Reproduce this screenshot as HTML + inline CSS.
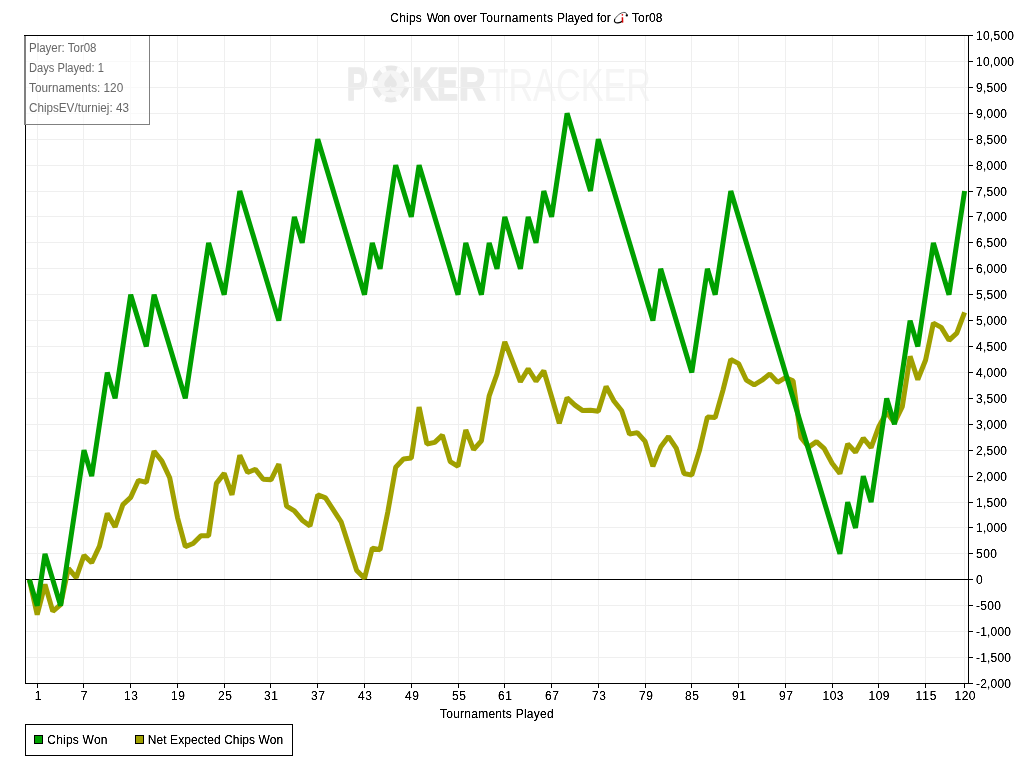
<!DOCTYPE html>
<html><head><meta charset="utf-8"><title>Chips Won over Tournaments Played</title>
<style>
html,body{margin:0;padding:0;background:#fff;}
body{width:1018px;height:761px;overflow:hidden;font-family:"Liberation Sans",sans-serif;}
svg{display:block;will-change:transform;}
text{font-family:"Liberation Sans",sans-serif;font-size:12px;fill:#000;}
.info text{fill:#666;}
</style></head><body>
<svg width="1018" height="761" viewBox="0 0 1018 761">
<defs><filter id="alias" x="0" y="0" width="100%" height="100%" filterUnits="userSpaceOnUse" color-interpolation-filters="sRGB"><feComponentTransfer><feFuncA type="linear" slope="1.7" intercept="-0.2"/></feComponentTransfer></filter></defs>
<rect x="0" y="0" width="1018" height="761" fill="#fff"/>

<g id="wm">
<g font-weight="bold" style="font-size:46px" fill="#eaeaea">
<text transform="translate(346.7,100.2) scale(0.685,1)" style="font-size:46px;fill:#ebebeb;stroke:#ebebeb;stroke-width:1.6px;stroke-linejoin:round">P</text>
<text transform="translate(411.9,100.2) scale(0.795,1)" style="font-size:46px;fill:#ebebeb;stroke:#ebebeb;stroke-width:1.6px;stroke-linejoin:round">K</text>
<text transform="translate(437.0,100.2) scale(0.685,1)" style="font-size:46px;fill:#ebebeb;stroke:#ebebeb;stroke-width:1.6px;stroke-linejoin:round">E</text>
<text transform="translate(458.8,100.2) scale(0.809,1)" style="font-size:46px;fill:#ebebeb;stroke:#ebebeb;stroke-width:1.6px;stroke-linejoin:round">R</text>
</g>
<circle cx="390.9" cy="84" r="13.6" fill="#f5f5f5"/>
<circle cx="390.9" cy="84" r="16.0" fill="none" stroke="#e8e8e8" stroke-width="4.9"/>
<circle cx="390.9" cy="84" r="16.0" fill="none" stroke="#fdfdfd" stroke-width="5.1" stroke-dasharray="5.8 10.955" stroke-dashoffset="2.9"/>
<path d="M390.5,73.3 C389.6,77 384.2,80.2 384.2,84.2 C384.2,86.2 385.7,87.4 387.5,87.4 C388.8,87.4 389.9,86.8 390.5,85.9 C391.1,86.8 392.2,87.4 393.5,87.4 C395.3,87.4 396.9,86.2 396.9,84.2 C396.9,80.2 391.4,77 390.5,73.3 Z M390.5,87.6 C390.1,89.6 388.8,91 386.9,91.3 L385.3,91.4 L385.3,92.1 L395.7,92.1 L395.7,91.4 L394.1,91.3 C392.2,91 390.9,89.6 390.5,87.6 Z" fill="#e7e7e7"/>
<text x="487.5" y="100.5" textLength="163.5" lengthAdjust="spacingAndGlyphs" style="font-size:46px;fill:#f5f5f5">TRACKER</text>
</g>
<g stroke="#efefef" stroke-width="1" shape-rendering="crispEdges">
<line x1="37.5" y1="36" x2="37.5" y2="683"/>
<line x1="83.5" y1="36" x2="83.5" y2="683"/>
<line x1="130.5" y1="36" x2="130.5" y2="683"/>
<line x1="177.5" y1="36" x2="177.5" y2="683"/>
<line x1="224.5" y1="36" x2="224.5" y2="683"/>
<line x1="270.5" y1="36" x2="270.5" y2="683"/>
<line x1="317.5" y1="36" x2="317.5" y2="683"/>
<line x1="364.5" y1="36" x2="364.5" y2="683"/>
<line x1="411.5" y1="36" x2="411.5" y2="683"/>
<line x1="458.5" y1="36" x2="458.5" y2="683"/>
<line x1="504.5" y1="36" x2="504.5" y2="683"/>
<line x1="551.5" y1="36" x2="551.5" y2="683"/>
<line x1="598.5" y1="36" x2="598.5" y2="683"/>
<line x1="645.5" y1="36" x2="645.5" y2="683"/>
<line x1="691.5" y1="36" x2="691.5" y2="683"/>
<line x1="738.5" y1="36" x2="738.5" y2="683"/>
<line x1="785.5" y1="36" x2="785.5" y2="683"/>
<line x1="832.5" y1="36" x2="832.5" y2="683"/>
<line x1="878.5" y1="36" x2="878.5" y2="683"/>
<line x1="925.5" y1="36" x2="925.5" y2="683"/>
<line x1="964.5" y1="36" x2="964.5" y2="683"/>
<line x1="26" y1="657.5" x2="968" y2="657.5"/>
<line x1="26" y1="631.5" x2="968" y2="631.5"/>
<line x1="26" y1="605.5" x2="968" y2="605.5"/>
<line x1="26" y1="553.5" x2="968" y2="553.5"/>
<line x1="26" y1="527.5" x2="968" y2="527.5"/>
<line x1="26" y1="502.5" x2="968" y2="502.5"/>
<line x1="26" y1="476.5" x2="968" y2="476.5"/>
<line x1="26" y1="450.5" x2="968" y2="450.5"/>
<line x1="26" y1="424.5" x2="968" y2="424.5"/>
<line x1="26" y1="398.5" x2="968" y2="398.5"/>
<line x1="26" y1="372.5" x2="968" y2="372.5"/>
<line x1="26" y1="346.5" x2="968" y2="346.5"/>
<line x1="26" y1="320.5" x2="968" y2="320.5"/>
<line x1="26" y1="294.5" x2="968" y2="294.5"/>
<line x1="26" y1="268.5" x2="968" y2="268.5"/>
<line x1="26" y1="242.5" x2="968" y2="242.5"/>
<line x1="26" y1="216.5" x2="968" y2="216.5"/>
<line x1="26" y1="191.5" x2="968" y2="191.5"/>
<line x1="26" y1="165.5" x2="968" y2="165.5"/>
<line x1="26" y1="139.5" x2="968" y2="139.5"/>
<line x1="26" y1="113.5" x2="968" y2="113.5"/>
<line x1="26" y1="87.5" x2="968" y2="87.5"/>
<line x1="26" y1="61.5" x2="968" y2="61.5"/>
</g>
<line x1="26" y1="579.5" x2="968" y2="579.5" stroke="#000" stroke-width="1" shape-rendering="crispEdges"/>
<polyline points="29.4,579.8 37.2,614.6 45.0,584.4 52.8,611.4 60.6,604.7 68.4,568.3 76.2,577.7 84.0,555.4 91.7,562.7 99.5,546.1 107.3,513.4 115.1,526.9 122.9,504.7 130.7,497.4 138.5,480.3 146.3,482.4 154.1,451.2 161.9,461.1 169.7,477.7 177.5,517.6 185.3,546.6 193.1,543.5 200.9,535.8 208.6,535.8 216.4,483.4 224.2,473.4 232.0,494.8 239.8,455.3 247.6,472.5 255.4,469.4 263.2,479.3 271.0,479.8 278.8,464.1 286.6,506.2 294.4,510.9 302.2,520.2 310.0,525.9 317.8,494.8 325.5,497.9 333.3,509.8 341.1,521.8 348.9,546.1 356.7,570.5 364.5,578.3 372.3,548.2 380.1,549.8 387.9,511.4 395.7,467.3 403.5,459.0 411.3,458.0 419.1,407.1 426.9,444.0 434.7,442.4 442.4,435.1 450.2,461.6 458.0,466.3 465.8,429.9 473.6,449.7 481.4,440.9 489.2,395.8 497.0,374.0 504.8,341.8 512.6,361.6 520.4,381.8 528.2,368.7 536.0,381.3 543.8,370.8 551.6,396.8 559.3,423.3 567.1,397.8 574.9,405.1 582.7,410.6 590.5,410.3 598.3,411.3 606.1,386.4 613.9,401.0 621.7,410.8 629.5,434.1 637.3,432.6 645.1,441.4 652.9,466.3 660.7,447.1 668.5,436.6 676.2,448.1 684.0,473.5 691.8,475.1 699.6,450.0 707.4,417.0 715.2,417.6 723.0,390.1 730.8,359.4 738.6,363.6 746.4,380.2 754.2,384.9 762.0,380.2 769.8,373.9 777.6,382.3 785.4,377.6 793.1,380.8 800.9,437.5 808.7,447.1 816.5,441.6 824.3,448.7 832.1,463.2 839.9,473.5 847.7,443.9 855.5,452.3 863.3,438.2 871.1,447.6 878.9,426.4 886.7,412.3 894.5,422.7 902.3,406.7 910.1,356.3 917.8,379.7 925.6,360.0 933.4,323.1 941.2,327.4 949.0,340.3 956.8,333.1 964.6,312.3" fill="none" stroke="#a0a000" stroke-width="5" stroke-linejoin="bevel" stroke-linecap="butt"/>
<polyline points="29.4,579.8 37.2,605.7 45.0,553.9 60.6,605.7 84.0,450.2 91.7,476.1 107.3,372.5 115.1,398.4 130.7,294.7 146.3,346.5 154.1,294.7 185.3,398.4 208.6,242.9 224.2,294.7 239.8,191.0 278.8,320.6 294.4,216.9 302.2,242.9 317.8,139.2 364.5,294.7 372.3,242.9 380.1,268.8 395.7,165.1 411.3,216.9 419.1,165.1 458.0,294.7 465.8,242.9 481.4,294.7 489.2,242.9 497.0,268.8 504.8,216.9 520.4,268.8 528.2,216.9 536.0,242.9 543.8,191.0 551.6,216.9 567.1,113.3 590.5,191.0 598.3,139.2 652.9,320.6 660.7,268.8 691.8,372.5 707.4,268.8 715.2,294.7 730.8,191.0 839.9,553.9 847.7,502.1 855.5,528.0 863.3,476.1 871.1,502.1 886.7,398.4 894.5,424.3 910.1,320.6 917.8,346.5 933.4,242.9 949.0,294.7 964.6,191.0" fill="none" stroke="#00a000" stroke-width="5" stroke-linejoin="bevel" stroke-linecap="butt"/>
<g stroke="#000" stroke-width="1" shape-rendering="crispEdges" fill="none">
<line x1="24" y1="35.5" x2="969" y2="35.5"/><line x1="25.5" y1="35" x2="25.5" y2="684"/><line x1="25" y1="683.5" x2="969" y2="683.5"/><line x1="968.5" y1="35" x2="968.5" y2="684"/>
<line x1="37.5" y1="684" x2="37.5" y2="688"/>
<line x1="83.5" y1="684" x2="83.5" y2="688"/>
<line x1="130.5" y1="684" x2="130.5" y2="688"/>
<line x1="177.5" y1="684" x2="177.5" y2="688"/>
<line x1="224.5" y1="684" x2="224.5" y2="688"/>
<line x1="270.5" y1="684" x2="270.5" y2="688"/>
<line x1="317.5" y1="684" x2="317.5" y2="688"/>
<line x1="364.5" y1="684" x2="364.5" y2="688"/>
<line x1="411.5" y1="684" x2="411.5" y2="688"/>
<line x1="458.5" y1="684" x2="458.5" y2="688"/>
<line x1="504.5" y1="684" x2="504.5" y2="688"/>
<line x1="551.5" y1="684" x2="551.5" y2="688"/>
<line x1="598.5" y1="684" x2="598.5" y2="688"/>
<line x1="645.5" y1="684" x2="645.5" y2="688"/>
<line x1="691.5" y1="684" x2="691.5" y2="688"/>
<line x1="738.5" y1="684" x2="738.5" y2="688"/>
<line x1="785.5" y1="684" x2="785.5" y2="688"/>
<line x1="832.5" y1="684" x2="832.5" y2="688"/>
<line x1="878.5" y1="684" x2="878.5" y2="688"/>
<line x1="925.5" y1="684" x2="925.5" y2="688"/>
<line x1="964.5" y1="684" x2="964.5" y2="688"/>
<line x1="969" y1="683.5" x2="973" y2="683.5"/>
<line x1="969" y1="657.5" x2="973" y2="657.5"/>
<line x1="969" y1="631.5" x2="973" y2="631.5"/>
<line x1="969" y1="605.5" x2="973" y2="605.5"/>
<line x1="969" y1="579.5" x2="973" y2="579.5"/>
<line x1="969" y1="553.5" x2="973" y2="553.5"/>
<line x1="969" y1="527.5" x2="973" y2="527.5"/>
<line x1="969" y1="502.5" x2="973" y2="502.5"/>
<line x1="969" y1="476.5" x2="973" y2="476.5"/>
<line x1="969" y1="450.5" x2="973" y2="450.5"/>
<line x1="969" y1="424.5" x2="973" y2="424.5"/>
<line x1="969" y1="398.5" x2="973" y2="398.5"/>
<line x1="969" y1="372.5" x2="973" y2="372.5"/>
<line x1="969" y1="346.5" x2="973" y2="346.5"/>
<line x1="969" y1="320.5" x2="973" y2="320.5"/>
<line x1="969" y1="294.5" x2="973" y2="294.5"/>
<line x1="969" y1="268.5" x2="973" y2="268.5"/>
<line x1="969" y1="242.5" x2="973" y2="242.5"/>
<line x1="969" y1="216.5" x2="973" y2="216.5"/>
<line x1="969" y1="191.5" x2="973" y2="191.5"/>
<line x1="969" y1="165.5" x2="973" y2="165.5"/>
<line x1="969" y1="139.5" x2="973" y2="139.5"/>
<line x1="969" y1="113.5" x2="973" y2="113.5"/>
<line x1="969" y1="87.5" x2="973" y2="87.5"/>
<line x1="969" y1="61.5" x2="973" y2="61.5"/>
<line x1="969" y1="35.5" x2="973" y2="35.5"/>
</g>
<rect x="25.5" y="724.5" width="267" height="31" fill="#fff" stroke="#000" stroke-width="1" shape-rendering="crispEdges"/>
<rect x="34.5" y="735.5" width="8" height="8" fill="#00a000" stroke="#000" stroke-width="1" shape-rendering="crispEdges"/>
<rect x="135.5" y="735.5" width="8" height="8" fill="#a0a000" stroke="#000" stroke-width="1" shape-rendering="crispEdges"/>
<g filter="url(#alias)">
<g text-anchor="middle">
<text x="38" y="700" textLength="7" lengthAdjust="spacing">1</text>
<text x="84" y="700" textLength="7" lengthAdjust="spacing">7</text>
<text x="131" y="700" textLength="14" lengthAdjust="spacing">13</text>
<text x="178" y="700" textLength="14" lengthAdjust="spacing">19</text>
<text x="225" y="700" textLength="14" lengthAdjust="spacing">25</text>
<text x="271" y="700" textLength="14" lengthAdjust="spacing">31</text>
<text x="318" y="700" textLength="14" lengthAdjust="spacing">37</text>
<text x="365" y="700" textLength="14" lengthAdjust="spacing">43</text>
<text x="412" y="700" textLength="14" lengthAdjust="spacing">49</text>
<text x="459" y="700" textLength="14" lengthAdjust="spacing">55</text>
<text x="505" y="700" textLength="14" lengthAdjust="spacing">61</text>
<text x="552" y="700" textLength="14" lengthAdjust="spacing">67</text>
<text x="599" y="700" textLength="14" lengthAdjust="spacing">73</text>
<text x="646" y="700" textLength="14" lengthAdjust="spacing">79</text>
<text x="692" y="700" textLength="14" lengthAdjust="spacing">85</text>
<text x="739" y="700" textLength="14" lengthAdjust="spacing">91</text>
<text x="786" y="700" textLength="14" lengthAdjust="spacing">97</text>
<text x="833" y="700" textLength="21" lengthAdjust="spacing">103</text>
<text x="879" y="700" textLength="21" lengthAdjust="spacing">109</text>
<text x="926" y="700" textLength="21" lengthAdjust="spacing">115</text>
<text x="965" y="700" textLength="21" lengthAdjust="spacing">120</text>
</g><g>
<text x="976" y="688" textLength="35" lengthAdjust="spacing">-2,000</text>
<text x="976" y="662" textLength="35" lengthAdjust="spacing">-1,500</text>
<text x="976" y="636" textLength="35" lengthAdjust="spacing">-1,000</text>
<text x="976" y="610" textLength="25" lengthAdjust="spacing">-500</text>
<text x="976" y="584" textLength="7" lengthAdjust="spacing">0</text>
<text x="976" y="558" textLength="21" lengthAdjust="spacing">500</text>
<text x="976" y="532" textLength="31" lengthAdjust="spacing">1,000</text>
<text x="976" y="507" textLength="31" lengthAdjust="spacing">1,500</text>
<text x="976" y="481" textLength="31" lengthAdjust="spacing">2,000</text>
<text x="976" y="455" textLength="31" lengthAdjust="spacing">2,500</text>
<text x="976" y="429" textLength="31" lengthAdjust="spacing">3,000</text>
<text x="976" y="403" textLength="31" lengthAdjust="spacing">3,500</text>
<text x="976" y="377" textLength="31" lengthAdjust="spacing">4,000</text>
<text x="976" y="351" textLength="31" lengthAdjust="spacing">4,500</text>
<text x="976" y="325" textLength="31" lengthAdjust="spacing">5,000</text>
<text x="976" y="299" textLength="31" lengthAdjust="spacing">5,500</text>
<text x="976" y="273" textLength="31" lengthAdjust="spacing">6,000</text>
<text x="976" y="247" textLength="31" lengthAdjust="spacing">6,500</text>
<text x="976" y="221" textLength="31" lengthAdjust="spacing">7,000</text>
<text x="976" y="196" textLength="31" lengthAdjust="spacing">7,500</text>
<text x="976" y="170" textLength="31" lengthAdjust="spacing">8,000</text>
<text x="976" y="144" textLength="31" lengthAdjust="spacing">8,500</text>
<text x="976" y="118" textLength="31" lengthAdjust="spacing">9,000</text>
<text x="976" y="92" textLength="31" lengthAdjust="spacing">9,500</text>
<text x="976" y="66" textLength="38" lengthAdjust="spacing">10,000</text>
<text x="976" y="40" textLength="38" lengthAdjust="spacing">10,500</text>
</g>
<text x="440" y="718" textLength="113.6" lengthAdjust="spacing">Tournaments Played</text>
<text x="390.3" y="22" textLength="31.5" lengthAdjust="spacing">Chips</text>
<text x="426.7" y="22" textLength="23.6" lengthAdjust="spacing">Won</text>
<text x="453.8" y="22" textLength="23.0" lengthAdjust="spacing">over</text>
<text x="479.8" y="22" textLength="73.2" lengthAdjust="spacing">Tournaments</text>
<text x="557.0" y="22" textLength="36.2" lengthAdjust="spacing">Played</text>
<text x="596.7" y="22" textLength="14.0" lengthAdjust="spacing">for</text>
<text x="632" y="22" textLength="30.5" lengthAdjust="spacing">Tor08</text>
<text x="47.3" y="744" textLength="60.2" lengthAdjust="spacing">Chips Won</text>
<text x="147.8" y="744" textLength="135.4" lengthAdjust="spacing">Net Expected Chips Won</text>
</g>
<g fill="none" stroke-linecap="round">
<path d="M626.9,15.2 C627.2,13.5 625.8,12.3 623.8,12.4 C620.4,12.7 616.4,16.0 614.7,19.4" stroke="#3a3a3a" stroke-width="0.85"/>
<path d="M614.7,19.4 C613.7,21.8 615.3,23.2 618,22.9 C619.8,22.7 621.2,22 622.2,21.2" stroke="#000" stroke-width="1.15"/>
<circle cx="626.8" cy="15.4" r="1.15" fill="#000" stroke="none"/>
<circle cx="622.4" cy="14.8" r="0.85" fill="#e01010" stroke="none"/>
<path d="M622.4,17.2 L622.6,22.6" stroke="#d80000" stroke-width="1.5" stroke-linecap="butt"/>
</g>
<g class="info"><rect x="26" y="36" width="123" height="88" fill="#fff" fill-opacity="0.6"/>
<g stroke="#808080" stroke-width="1" shape-rendering="crispEdges"><line x1="24.5" y1="36" x2="24.5" y2="125"/><line x1="25.5" y1="36" x2="25.5" y2="125"/><line x1="24" y1="124.5" x2="150" y2="124.5"/><line x1="149.5" y1="36" x2="149.5" y2="125"/></g>
<text x="29" y="52" textLength="67.5" lengthAdjust="spacingAndGlyphs">Player: Tor08</text>
<text x="29" y="72" textLength="74.9" lengthAdjust="spacingAndGlyphs">Days Played: 1</text>
<text x="29" y="92" textLength="94.2" lengthAdjust="spacingAndGlyphs">Tournaments: 120</text>
<text x="29" y="112" textLength="99.9" lengthAdjust="spacingAndGlyphs">ChipsEV/turniej: 43</text>
</g>
</svg></body></html>
